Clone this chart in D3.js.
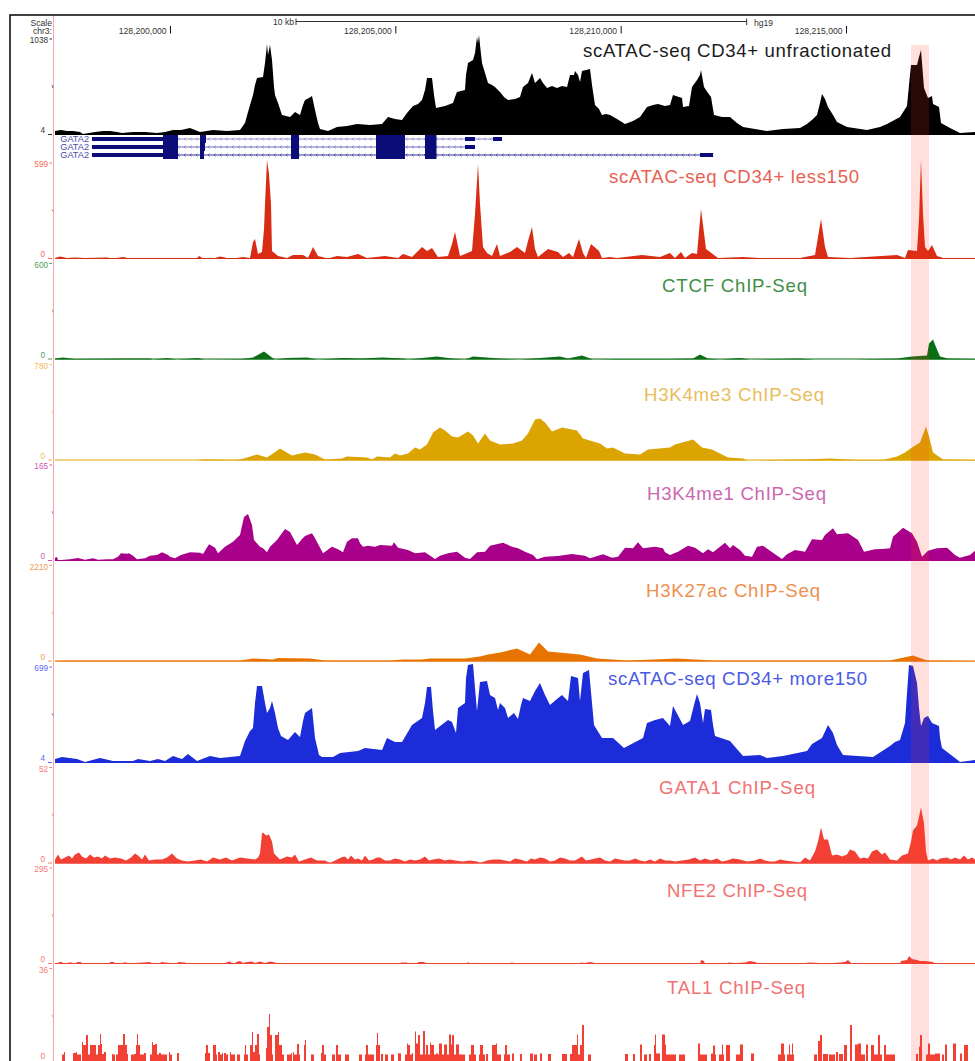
<!DOCTYPE html>
<html>
<head>
<meta charset="utf-8">
<script src="https://cdn.jsdelivr.net/npm/d3@7"></script>
<style>
  html, body { margin: 0; padding: 0; background: #fff; overflow: hidden; }
  svg { display: block; font-family: "Liberation Sans", Arial, sans-serif; }
</style>
</head>
<body>
<svg id="chart" width="975" height="1061"></svg>
<script>
// Signal tracks: [browser bin, signal as % of the track's view range]
const atacUnfrac = [[0,4],[3,4.5],[6,5],[12,4],[18,4],[25,3],[28,1],[34,2],[40,3],[48,4],[55,4],[62,3],[67,2],[78,3],[90,3],[102,2],[110,3],[118,5],[126,5],[135,7],[140,5],[145,3],[158,5],[172,4],[185,5],[190,12],[193,23],[198,40],[200,50],[202,57],[208,58],[210,72],[212,91],[213,80],[214,85],[215,90],[217,75],[219,48],[220,40],[223,32],[227,20],[235,18],[240,23],[245,20],[248,30],[250,35],[254,37],[257,39],[260,25],[263,12],[265,6],[273,4],[282,8],[292,9],[302,11],[315,10],[327,11],[333,18],[340,16],[347,15],[352,22],[358,29],[363,31],[367,35],[370,45],[372,57],[377,57],[379,40],[381,27],[390,29],[398,32],[400,38],[402,43],[410,45],[411,60],[413,72],[418,75],[420,82],[422,98],[423,92],[424,100],[425,90],[427,72],[430,62],[433,52],[437,50],[440,48],[445,43],[449,38],[453,35],[460,36],[465,38],[468,48],[473,52],[477,62],[480,52],[485,57],[488,52],[492,47],[497,49],[502,47],[507,49],[512,48],[515,60],[519,60],[520,64],[523,60],[525,53],[527,64],[531,65],[535,66],[537,50],[540,30],[544,26],[547,20],[551,21],[555,20],[562,16],[570,11],[578,14],[585,18],[592,28],[598,30],[603,31],[610,29],[615,30],[618,40],[624,38],[627,37],[628,28],[634,29],[637,48],[642,55],[645,60],[646,65],[649,48],[653,42],[656,38],[659,20],[667,18],[675,18],[682,12],[688,8],[700,6],[712,4],[728,6],[745,7],[752,11],[758,16],[762,20],[765,32],[767,41],[770,36],[773,28],[778,20],[782,13],[792,8],[812,5],[825,8],[832,11],[845,18],[852,29],[854,50],[856,70],[862,70],[864,78],[866,85],[869,47],[873,37],[877,39],[878,31],[884,28],[886,12],[895,7],[905,2],[920,3]];
const atacLess150 = [[0,1],[5,2.5],[12,1],[20,1.5],[30,1],[52,1.5],[58,0.5],[68,2],[75,0.5],[95,1],[110,0.5],[122,1],[142,1],[144,3],[148,0.5],[160,1],[165,2.5],[172,1],[178,0.5],[188,2],[195,1],[198,17],[200,20],[203,5],[207,7],[209,30],[210,55],[212,99],[214,85],[216,55],[217,8],[223,3],[232,1],[238,4],[248,4],[253,1],[258,12],[263,3],[273,0.5],[282,3],[292,2],[303,5],[312,1],[330,3],[343,1],[348,5],[357,2],[367,12],[372,8],[377,11],[383,2],[393,3],[397,15],[400,27],[405,3],[410,5],[417,8],[420,45],[423,95],[425,55],[428,12],[432,6],[437,3],[442,15],[445,3],[455,7],[462,12],[470,6],[473,18],[477,32],[480,10],[483,2],[493,10],[503,7],[508,2],[514,6],[518,2],[524,20],[528,6],[531,1],[536,15],[544,8],[547,1],[555,2],[562,1],[587,4],[605,2],[615,6],[620,1],[626,7],[630,1],[637,6],[642,5],[646,50],[651,10],[663,1],[688,2],[712,0.5],[745,1],[760,4],[766,40],[770,12],[773,2],[795,1],[842,4],[850,1],[853,9],[862,8],[864,40],[866,99],[868,45],[870,12],[873,8],[877,14],[882,3],[890,0.5],[920,0.5]];
const ctcf = [[0,1],[8,2],[20,0.5],[72,1],[95,1],[98,0],[112,1.5],[122,0],[143,1.5],[150,0],[187,0.5],[198,2],[209,8],[217,2],[220,0],[232,1.5],[252,2],[263,0],[288,1.5],[305,1],[328,2],[348,1],[353,0],[372,2],[382,3],[397,1],[410,0],[418,3],[445,1],[465,0],[505,3],[513,1],[527,4],[538,0],[562,0.5],[615,0.5],[638,1],[645,5],[653,1],[665,0],[685,1.5],[695,0],[745,1],[760,0],[798,0],[842,1],[857,3],[872,4],[874,16],[878,20],[882,10],[885,3],[893,1],[920,0.5]];
const h3k4me3 = [[0,0],[142,0],[148,1],[155,1],[178,0.5],[185,1],[192,3],[202,6],[212,3],[218,7],[225,12],[237,5],[250,8],[260,6],[270,1],[287,2],[292,4],[312,3],[317,1],[322,4],[335,3],[340,7],[345,5],[353,7],[360,13],[365,11],[372,16],[378,28],[385,33],[390,30],[397,24],[403,23],[413,29],[418,25],[423,17],[430,27],[435,20],[445,16],[458,17],[467,20],[473,27],[480,41],[485,42],[490,38],[497,29],[507,33],[522,30],[528,22],[545,17],[552,12],[558,13],[570,7],[585,6],[593,11],[615,13],[620,16],[638,21],[647,13],[657,11],[673,3],[688,2],[693,0],[715,0.5],[750,1],[775,2],[802,0.5],[828,0.5],[842,4],[850,8],[857,13],[865,18],[871,34],[874,24],[878,8],[888,1],[920,0.5]];
const h3k4me1 = [[0,3.3],[2,4],[3,0.7],[15,1.7],[23,3],[30,1.3],[38,2.7],[43,1.3],[52,1.7],[58,1.7],[63,4.3],[66,7.7],[72,7.3],[74,7.7],[78,5.3],[82,1.7],[90,2.7],[95,5.3],[102,6],[107,8.7],[113,6],[115,4.3],[120,2.7],[126,6],[135,8.7],[145,8.3],[148,7],[154,16.7],[160,13.3],[163,7.7],[170,14.3],[178,19.3],[185,26],[189,44],[193,47],[197,36],[199,21],[205,14.3],[208,12.7],[212,8.7],[215,14.3],[222,21],[230,32],[235,29],[242,16],[247,22],[250,25],[257,27.7],[260,22.7],[268,7.7],[277,14.3],[283,11.7],[288,8.7],[292,19.3],[297,22.7],[303,22.7],[305,17.7],[308,14.3],[313,15.3],[320,14.3],[325,16],[337,15.3],[339,18.7],[343,13.3],[353,11],[360,7.7],[370,8.7],[380,2],[385,5.3],[393,7.7],[402,9.3],[410,3.3],[415,2],[422,8.7],[430,9.3],[435,15.3],[448,18.3],[457,14.3],[463,12.7],[470,9.3],[478,6],[482,1.7],[490,4.3],[503,5],[517,7],[530,5.3],[535,2.7],[548,6.7],[557,3.3],[563,4.3],[570,13.3],[578,12.7],[583,18.7],[588,12.7],[600,14.3],[608,12.7],[610,8.7],[615,6],[623,9.3],[633,15.3],[640,13.3],[648,7.7],[653,11.7],[658,8.7],[670,18.3],[675,12.7],[678,16],[685,11],[690,5.3],[697,4.3],[702,14.3],[708,15.3],[720,6.7],[727,2],[732,6.7],[740,11],[750,9.3],[757,21.7],[767,21],[770,26],[778,32.7],[782,26.7],[793,27.7],[803,21],[809,9.3],[820,11.7],[827,12],[835,12.7],[838,24.3],[848,33.3],[857,27.7],[862,19.3],[867,4.3],[873,10.3],[882,12.7],[892,13.3],[900,6],[905,3.3],[915,6],[920,10.3]];
const h3k27ac = [[0,0.5],[10,1],[161,1],[185,1],[198,3],[218,2],[223,3.5],[255,3],[270,1],[292,1],[322,1],[335,1],[348,2],[367,2],[375,3],[410,3],[425,5],[433,7],[445,9],[462,13],[475,7],[484,19],[493,10],[525,7],[542,3],[573,1],[622,3],[658,1],[765,1],[835,1],[858,6],[872,1],[885,1],[920,0.5]];
const atacMore150 = [[0,4],[7,6],[22,4],[30,1],[45,5],[58,2],[78,2],[83,4],[95,2],[103,4],[110,2],[118,7],[127,4],[133,9],[142,2],[155,7],[165,5],[185,7],[190,22],[195,32],[198,35],[200,60],[202,77],[207,77],[210,60],[212,50],[215,55],[217,62],[220,50],[223,35],[226,27],[233,23],[240,31],[245,26],[248,42],[250,50],[257,55],[259,35],[260,25],[264,8],[267,6],[278,6],[285,10],[303,12],[310,15],[327,13],[332,25],[340,21],[347,21],[357,38],[367,45],[370,60],[372,76],[376,76],[378,52],[380,33],[393,43],[397,41],[401,30],[403,55],[410,60],[411,85],[413,98],[418,99],[420,75],[422,52],[425,81],[432,82],[435,68],[440,65],[443,53],[445,60],[450,55],[453,45],[459,50],[463,44],[466,58],[468,65],[475,62],[480,72],[485,80],[490,68],[495,58],[502,64],[507,68],[513,62],[516,87],[523,85],[525,62],[528,90],[534,93],[537,60],[539,38],[547,25],[558,25],[569,15],[588,25],[592,40],[600,43],[608,45],[615,37],[618,57],[627,40],[628,38],[635,42],[639,58],[642,69],[645,60],[648,40],[650,54],[656,53],[658,38],[660,27],[675,22],[688,7],[705,8],[712,5],[728,7],[752,12],[757,19],[767,25],[773,38],[778,30],[782,18],[788,8],[818,6],[835,17],[840,21],[845,23],[850,40],[852,70],[854,98],[858,97],[862,80],[864,55],[866,37],[869,45],[873,47],[877,40],[884,37],[885,25],[887,15],[900,5],[905,1],[920,3]];
const gata1 = [[0,4],[3,9],[6,4],[10,6],[14,8],[17,5],[20,9],[24,11],[27,7],[31,5],[35,9],[39,6],[43,7],[47,5],[50,8],[55,5],[60,6],[66,5],[71,3],[76,6],[80,10],[83,8],[87,4],[90,9],[94,3],[100,4],[107,4],[112,6],[117,10],[122,5],[127,3],[133,2],[140,3],[146,4],[152,2],[158,6],[165,4],[171,6],[177,3],[185,6],[192,5],[200,4],[203,6],[205,10],[207,30],[208,31],[211,28],[214,29],[217,22],[219,10],[225,4],[232,7],[237,6],[240,9],[244,2],[250,4],[256,6],[262,3],[270,3],[275,0.5],[282,4],[286,6],[290,7],[293,4],[296,8],[300,4],[303,5],[307,3],[310,8],[314,3],[318,4],[322,6],[325,6],[330,3],[335,3],[340,5],[345,4],[350,2],[355,4],[360,3],[365,4],[370,7],[374,3],[378,4],[384,5],[390,3],[395,4],[400,3],[408,2],[415,3],[422,2],[425,0.5],[432,3],[438,4],[445,4],[450,3],[455,2],[460,5],[465,4],[472,2],[476,5],[480,4],[485,6],[490,5],[495,2],[500,3],[505,6],[510,5],[515,3],[520,3],[527,7],[531,3],[536,4],[540,5],[545,6],[550,3],[555,2],[560,5],[565,4],[570,3],[575,3],[580,5],[585,3],[590,2],[595,4],[600,2],[605,5],[610,3],[615,3],[620,2],[627,3],[634,4],[640,6],[645,3],[650,5],[656,3],[662,5],[667,2],[672,3],[678,5],[685,4],[692,2],[700,3],[705,5],[710,3],[715,2],[720,2],[725,4],[730,3],[738,2],[745,1],[750,6],[755,3],[760,12],[763,22],[766,36],[769,24],[773,24],[777,8],[782,9],[787,7],[792,9],[795,14],[800,12],[805,5],[809,6],[813,5],[817,12],[822,14],[827,9],[830,11],[835,4],[842,3],[847,8],[853,10],[856,22],[858,33],[862,38],[866,56],[869,40],[871,12],[873,3],[878,5],[882,3],[885,5],[892,6],[896,4],[900,6],[905,4],[909,8],[913,4],[917,6],[920,4]];
const nfe2 = [[0,0],[3,0],[4,2],[7,2],[8,0],[12,0],[13,1.5],[17,1.5],[18,0],[21,0],[22,2],[26,2],[27,0],[37,0],[38,1],[40,1],[41,0],[54,0],[55,2],[59,2],[60,0],[67,0],[68,1.5],[72,1.5],[73,0],[78,0],[79,1],[88,1.5],[95,2],[98,0],[105,0],[106,2],[115,1],[118,0],[122,0],[123,2],[130,1.5],[133,0],[140,0],[141,1],[146,1],[147,0],[170,0],[171,1.5],[175,2.5],[178,0],[180,0],[181,2],[185,3],[188,1],[192,2],[197,2.5],[200,1],[205,2.5],[210,1],[215,2.5],[220,1.5],[224,0],[240,0],[241,1],[245,1],[246,0],[262,0],[263,1],[265,0],[284,0],[285,1],[288,1],[289,0],[310,0],[311,1],[315,1],[316,0],[345,0],[346,1.5],[352,1.5],[353,0],[362,0],[363,2],[368,2],[372,1],[375,0],[398,0],[399,1],[402,1],[403,0],[412,0],[413,2],[416,0],[426,0],[427,1],[435,1],[436,0],[455,0],[456,1.5],[460,1],[461,0],[475,0],[476,1],[480,0],[500,0],[501,1],[505,1],[506,0],[525,0],[526,1.5],[530,1],[535,2],[540,1],[545,0],[575,0],[576,1],[580,0],[600,0],[601,1],[605,0],[625,0],[626,1],[630,0],[645,0],[646,4],[649,3],[650,0],[672,0],[673,1.5],[680,1],[690,1.5],[695,3],[700,2],[705,0],[728,0],[729,1],[745,0.5],[755,1.5],[765,1],[770,0.5],[778,1],[785,1.5],[790,2],[793,4],[795,2],[798,0],[820,0],[821,1],[825,1],[826,0],[845,0],[846,3],[852,4],[854,8],[857,5],[862,4],[865,3],[870,3],[878,2],[880,0],[892,0],[905,0],[906,1],[910,1],[912,0],[915,1],[920,1]];
// TAL1 is sparse, kept as [start bin, end bin, %]
const tal1 = [[7,9,10],[9,10,12.5],[18,21,11.5],[21,22,12.5],[22,26,10],[27,28,22.5],[28,31,19.5],[31,33,29.5],[33,35,10],[35,41,19.5],[41,43,10],[43,45,19.5],[45,46,30.5],[46,47,20.5],[47,49,10.5],[49,51,12.5],[57,58,10.5],[58,60,10],[61,63,10],[63,68,19.5],[68,70,30.5],[70,72,19.5],[72,73,10.5],[76,79,10],[79,81,10.5],[81,82,19.5],[82,83,30.5],[83,85,19.5],[85,89,10],[89,91,11.5],[95,97,10],[97,98,22.5],[98,100,19.5],[100,102,20.5],[102,104,10],[104,106,11.5],[106,112,10],[114,115,12.5],[115,117,10],[122,124,11.5],[150,151,11.5],[151,153,19.5],[153,155,11.5],[158,161,19.5],[161,162,10],[163,165,12.5],[165,167,10],[167,168,11.5],[169,171,11.5],[171,173,10],[175,176,12.5],[176,180,10],[182,185,10],[189,190,10],[190,191,19.5],[191,193,10],[195,197,19.5],[197,198,32.5],[198,200,12.5],[200,202,19.5],[202,204,30.5],[204,205,10],[211,212,16.5],[212,214,37.5],[214,215,50.5],[215,217,29.5],[217,218,10],[220,223,29.5],[223,224,32.5],[224,227,19.5],[227,229,10],[232,236,10],[236,237,11.5],[238,239,12.5],[239,242,10],[242,244,20.5],[244,245,10],[249,250,19.5],[250,251,24.5],[256,259,10],[266,267,11.5],[267,269,19.5],[269,271,10],[277,280,10],[281,283,19.5],[283,286,10],[290,294,10],[304,307,10],[310,311,10],[311,313,19.5],[313,319,10],[321,322,19.5],[322,323,31.5],[323,325,19.5],[326,328,10.5],[330,333,10],[336,339,10],[343,344,11.5],[344,346,11],[350,352,10],[352,353,21],[353,355,19.5],[355,357,10],[357,358,11.5],[360,361,33],[361,363,21],[363,365,29.5],[365,368,10],[368,370,33.5],[370,371,10],[371,373,19.5],[373,375,10],[375,376,22],[376,379,19.5],[379,381,10],[381,383,11],[383,384,10],[384,387,21],[387,389,10],[389,392,20],[392,394,10],[394,396,30],[396,397,20],[397,399,29.5],[399,401,10],[401,404,20],[404,410,10],[414,416,10],[416,419,19.5],[419,421,10],[424,425,10],[425,428,19.5],[428,430,10],[431,433,10.5],[437,441,19.5],[441,442,21],[442,446,10],[449,450,10],[450,452,19.5],[452,455,10],[457,459,11],[465,467,10.5],[475,478,11],[479,482,10],[485,487,11],[493,496,10.5],[507,512,10.5],[515,517,10.5],[517,522,19.5],[522,523,30],[523,525,10],[525,527,19.5],[527,529,39.5],[533,536,10],[570,573,10.5],[578,580,10.5],[585,587,20],[589,592,10],[594,596,10.5],[599,600,19.5],[600,601,30],[601,605,11],[607,610,30],[610,611,20],[611,617,10],[617,621,10],[624,630,10],[643,645,21],[645,652,10],[656,658,11],[658,660,19],[660,661,10],[664,667,10],[667,668,20],[668,669,10],[671,675,19.5],[681,685,10],[685,688,20],[696,699,11],[723,726,10],[726,729,21],[729,730,10],[732,734,10],[734,735,20],[735,737,10],[737,738,21],[738,739,10],[759,762,10],[763,765,23.5],[765,767,29.5],[768,773,10.5],[774,780,10],[781,783,12.5],[784,788,10.5],[789,792,19.5],[795,797,39.5],[800,803,20],[803,806,21],[806,810,10],[811,813,20],[816,819,19.5],[819,823,10],[823,825,29.5],[825,827,10],[829,831,19.5],[831,840,10],[861,863,10.5],[864,865,18],[865,867,29.5],[871,873,10],[873,875,21],[875,880,10],[880,885,11],[887,889,10],[890,892,20],[898,901,21],[905,907,11],[909,913,19.5]];

const trackNames = ['scATAC-seq CD34+ unfractionated', 'scATAC-seq CD34+ less150', 'CTCF  ChIP-Seq', 'H3K4me3 ChIP-Seq', 'H3K4me1 ChIP-Seq', 'H3K27ac ChIP-Seq', 'scATAC-seq CD34+ more150', 'GATA1 ChIP-Seq', 'NFE2 ChIP-Seq', 'TAL1 ChIP-Seq'];
const viewMax = ['1038', '599', '600', '780', '165', '2210', '699', '52', '295', '36'];
const viewMin = ['4', '0', '0', '0', '0', '0', '4', '0', '0', '0'];

// Gene model, in browser bins
const geneLabels = ['GATA2', 'GATA2', 'GATA2'];
const utrBlocks = [[[37, 108], [410, 420], [438, 447]], [[37, 108], [410, 420]], [[37, 108], [645, 658]]];
const cdsBlocks = [[[108, 123], [145, 151], [236, 244], [321, 350], [370, 381.5]], [[108, 123], [145, 150], [236, 244], [321, 350], [370, 381.5]], [[108, 123], [145, 149], [236, 244], [321, 350], [370, 381.5]]];
const geneSpans = [[37, 447], [37, 420], [37, 658]];
const genomeTicks = [128200000, 128205000, 128210000, 128215000];
const highlightBins = [856, 874];

// layout per track
const baselines = [135, 259, 359.5, 460.5, 561, 661.5, 763, 863.5, 964, 1064.5];
const titleX = [583, 609, 662, 644, 647, 646, 608, 659, 667, 667];
const titleWidth = [308, 250, 145, 180, 179, 174, 259, 156, 140, 138];
const titleY = [57, 183, 292, 401, 500, 597, 685, 794, 897, 994];
const signalColors = ['#000000', '#d92c14', '#0a6e14', '#dca400', '#a8008a', '#e87400', '#1c2cd8', '#f24034', '#f24034', '#f24034'];
const titleColors = ['#1c1c1c', '#e8604f', '#3f8f45', '#e8bd5c', '#cc66b0', '#ee9050', '#4a5ae2', '#f07272', '#f07272', '#f07272'];
const labelColors = ['#333333', '#f06a58', '#4f9f55', '#eebc55', '#cc55b0', '#f29a50', '#5a6ae8', '#f77a72', '#f77a72', '#f77a72'];
const signals = [atacUnfrac, atacLess150, ctcf, h3k4me3, h3k4me1, h3k27ac, atacMore150, gata1, nfe2, tal1];

const svg = d3.select('#chart');
const x = d3.scaleLinear().domain([0, 920]).range([55, 975]);
const genome = d3.scaleLinear().domain([128200000, 128215000]).range([170.5, 846.5]);

/* ------------------------------------------------------------------ */
/*  Browser frame and ruler                                            */
/* ------------------------------------------------------------------ */

svg.append('rect').attr('x', 10).attr('y', 15).attr('width', 1000).attr('height', 1100)
  .attr('fill', 'none').attr('stroke', '#111').attr('stroke-width', 1.6);
svg.append('line').attr('x1', 53.5).attr('x2', 53.5).attr('y1', 16).attr('y2', 1061)
  .attr('stroke', '#f4a9a6').attr('stroke-width', 1);

const smallText = (tx, ty, str, fill, anchor = 'end', size = 8.6) => svg.append('text')
  .attr('x', tx).attr('y', ty).attr('text-anchor', anchor)
  .attr('font-size', size).attr('fill', fill).text(str);

smallText(52, 26, 'Scale', '#333');
smallText(52, 34, 'chr3:', '#333');

const barStart = 128202785, barEnd = 128212785;
smallText(294, 25, '10 kb', '#333');
smallText(754, 26, 'hg19', '#333', 'start');
svg.append('line').attr('x1', genome(barStart)).attr('x2', genome(barEnd)).attr('y1', 21.5).attr('y2', 21.5).attr('stroke', '#333');
[barStart, barEnd].forEach((p) => {
  svg.append('line').attr('x1', genome(p)).attr('x2', genome(p)).attr('y1', 18.5).attr('y2', 25).attr('stroke', '#333');
});

const formatPos = d3.format(',');
genomeTicks.forEach((p) => {
  smallText(genome(p) - 4, 34, formatPos(p), '#333');
  svg.append('line').attr('x1', genome(p)).attr('x2', genome(p)).attr('y1', 26).attr('y2', 33.5).attr('stroke', '#111');
});

/* ------------------------------------------------------------------ */
/*  GATA2 gene models                                                  */
/* ------------------------------------------------------------------ */

const rowY = d3.scalePoint().domain([0, 1, 2]).range([139, 155]);
const rowInk = ['#8c8cc8', '#6c6cbc', '#34349c'];
geneLabels.forEach((name, i) => {
  const cy = rowY(i);
  smallText(89, cy + 3, name, '#4c4cac', 'end', 9.2);
  svg.append('line').attr('x1', x(geneSpans[i][0])).attr('x2', x(geneSpans[i][1]))
    .attr('y1', cy).attr('y2', cy).attr('stroke', rowInk[i]);
  d3.range(geneSpans[i][0] + 2, geneSpans[i][1], 6).forEach((b) => {
    svg.append('path')
      .attr('d', `M${x(b) + 1.5},${cy - 1.5}L${x(b)},${cy}L${x(b) + 1.5},${cy + 1.5}`)
      .attr('fill', 'none').attr('stroke', rowInk[i]).attr('stroke-width', 0.7);
  });
  utrBlocks[i].forEach(([a, b]) => {
    svg.append('rect').attr('x', x(a)).attr('width', x(b) - x(a)).attr('y', cy - 2).attr('height', 4).attr('fill', '#0c0c78');
  });
  cdsBlocks[i].forEach(([a, b]) => {
    svg.append('rect').attr('x', x(a)).attr('width', x(b) - x(a)).attr('y', cy - 4).attr('height', 8).attr('fill', '#0c0c78');
  });
});

/* ------------------------------------------------------------------ */
/*  Signal tracks                                                      */
/* ------------------------------------------------------------------ */

signals.forEach((series, i) => {
  const base = baselines[i];
  const y = d3.scaleLinear().domain([0, 100]).range([base, base - 100]);

  if (series === tal1) {
    svg.append('g').selectAll('rect').data(series).join('rect')
      .attr('x', (d) => x(d[0]))
      .attr('width', (d) => x(d[1]) - x(d[0]))
      .attr('y', (d) => y(d[2]))
      .attr('height', (d) => y(0) - y(d[2]))
      .attr('fill', signalColors[i]);
  } else {
    const area = d3.area().x((d) => x(d[0])).y0(y(0)).y1((d) => y(d[1]));
    svg.append('path').datum(series).attr('d', area).attr('fill', signalColors[i]);
    svg.append('line').attr('x1', x(0)).attr('x2', x(920)).attr('y1', y(0) - 0.5).attr('y2', y(0) - 0.5)
      .attr('stroke', signalColors[i]).attr('stroke-width', 1);
  }

  // view limits on the left; the last track's floor runs off the page, so keep its label inside
  smallText(48, y(100) + 8, viewMax[i], labelColors[i], 'end', 8.2);
  svg.append('line').attr('x1', 49.5).attr('x2', 52).attr('y1', y(100) + 4).attr('y2', y(100) + 4).attr('stroke', labelColors[i]);
  smallText(45, Math.min(y(0) - 2, 1059), viewMin[i], labelColors[i], 'end', 8.2);
  svg.append('line').attr('x1', 48).attr('x2', 52).attr('y1', y(0) - 0.5).attr('y2', y(0) - 0.5).attr('stroke', labelColors[i]);
  svg.append('line').attr('x1', 52).attr('x2', 53).attr('y1', y(50)).attr('y2', y(50) + 3).attr('stroke', labelColors[i]).attr('opacity', 0.7);

  svg.append('text').attr('x', titleX[i]).attr('y', titleY[i])
    .attr('font-size', 18.6).attr('fill', titleColors[i])
    .attr('textLength', titleWidth[i]).attr('lengthAdjust', 'spacing')
    .text(trackNames[i]);
});

// Highlighted region
svg.append('rect').attr('x', x(highlightBins[0])).attr('width', x(highlightBins[1]) - x(highlightBins[0]))
  .attr('y', 45).attr('height', 1016)
  .attr('fill', 'rgb(255,60,40)').attr('fill-opacity', 0.16);
</script>
</body>
</html>
